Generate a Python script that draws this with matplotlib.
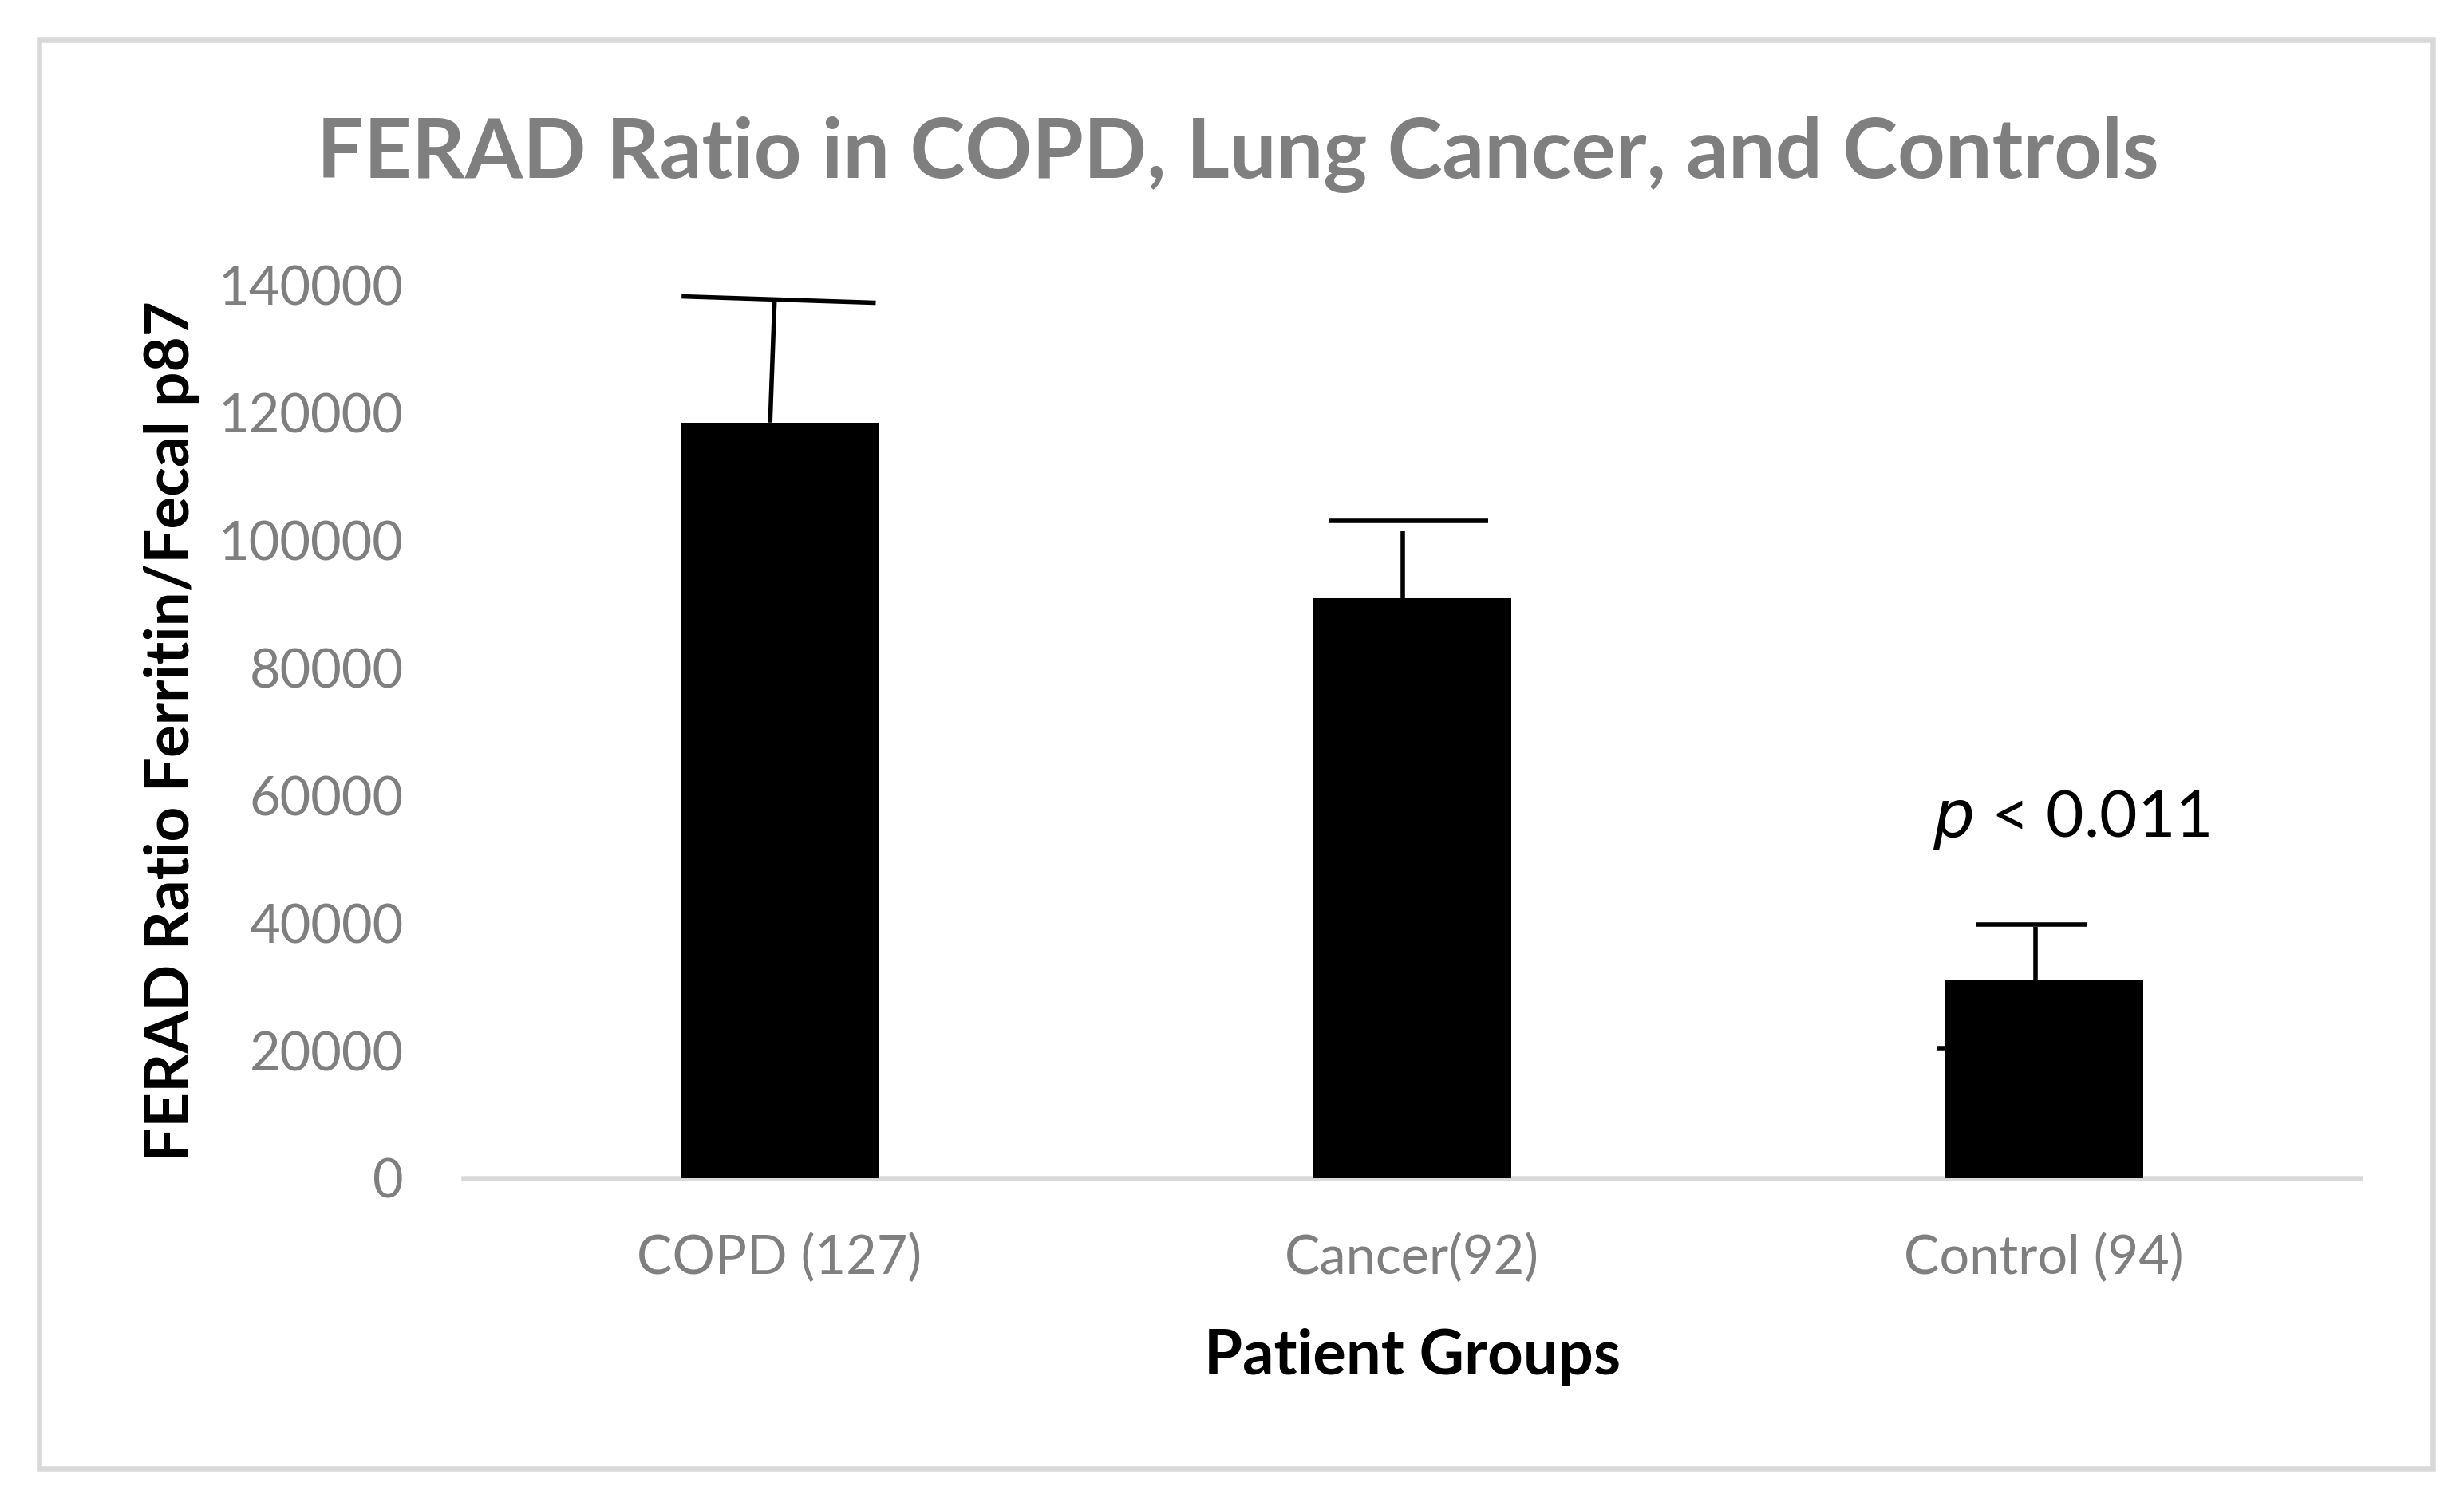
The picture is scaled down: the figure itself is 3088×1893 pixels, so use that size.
import matplotlib

matplotlib.use("Agg")
import matplotlib.pyplot as plt
from matplotlib.patches import Rectangle

# data
groups = ["COPD (127)", "Cancer(92)", "Control (94)"]
ferad_mean = [118500, 90900, 31200]
# upper error bars (drawn by hand in the original, so a bit uneven)
err_line_top = [137500, 101400, 39400]
cap_left_value = [138300, 103100, 39800]
cap_right_value = [137300, 103100, 39800]
# lower cap of control, mostly hidden behind the bar
control_lower_cap = 20400
y_ticks = [0, 20000, 40000, 60000, 80000, 100000, 120000, 140000]

# styling of the hand-drawn error bars (offsets in category units)
err_x_offset = [(-0.015, -0.008), (-0.015, -0.015), (-0.014, -0.014)]
cap_extent = [(-0.155, 0.152), (-0.131, 0.120), (-0.107, 0.067)]

GRAY_TEXT = "#7f7f7f"
GRAY_LINE = "#d9d9d9"
FONT = ["Lato", "DejaVu Sans"]

plt.rcParams["font.family"] = FONT

fig = plt.figure(figsize=(30.88, 18.93), dpi=100)
fig.patches.append(
    Rectangle((49 / 3088, 1 - 1841 / 1893), 3000 / 3088, 1791 / 1893,
              transform=fig.transFigure, fill=False, edgecolor=GRAY_LINE,
              linewidth=4.7, zorder=0)
)

ax = fig.add_axes([0.1881, 0.2198, 0.7698, 0.5911])
x = list(range(len(groups)))
ax.bar(x, ferad_mean, width=0.314, color="black", zorder=3)

for i in x:
    (ob, ot) = err_x_offset[i]
    ax.plot([i + ob, i + ot], [ferad_mean[i], err_line_top[i]],
            color="black", lw=4, solid_capstyle="butt", zorder=4)
    (cl, cr) = cap_extent[i]
    ax.plot([i + cl, i + cr], [cap_left_value[i], cap_right_value[i]],
            color="black", lw=4, solid_capstyle="butt", zorder=4)

ax.plot([2 - 0.17, 2], [control_lower_cap, control_lower_cap],
        color="black", lw=4, solid_capstyle="butt", zorder=2)

ax.set_xlim(-0.5, 2.5)
ax.set_ylim(0, 140000)
ax.set_yticks(y_ticks)
ax.set_yticklabels([str(v) for v in y_ticks])
ax.set_xticks(x)
ax.set_xticklabels(groups)
ax.tick_params(axis="y", length=0, pad=54, labelsize=48, labelcolor=GRAY_TEXT)
ax.tick_params(axis="x", length=0, pad=50, labelsize=48, labelcolor=GRAY_TEXT)
for side in ["top", "right", "left"]:
    ax.spines[side].set_visible(False)
ax.spines["bottom"].set_color(GRAY_LINE)
ax.spines["bottom"].set_linewidth(4.7)
ax.spines["bottom"].set_zorder(1)

ax.text(2.043, 53600, r"$\it{p}$ < 0.011", fontsize=59, ha="center",
        va="baseline", color="black")

fig.text(0.5023, 0.8822, "FERAD Ratio in COPD, Lung Cancer, and Controls",
         fontsize=75, fontweight="bold", color=GRAY_TEXT, ha="center",
         va="baseline")
fig.text(0.0696, 0.5156, "FERAD Ratio Ferritin/Fecal p87", fontsize=55,
         fontweight="bold", rotation=90, ha="center", va="center",
         color="black")
fig.text(0.5732, 0.0898, "Patient Groups", fontsize=56, fontweight="bold",
         ha="center", va="baseline", color="black")

fig.savefig("out.png", dpi=100, facecolor="white")
plt.close(fig)
